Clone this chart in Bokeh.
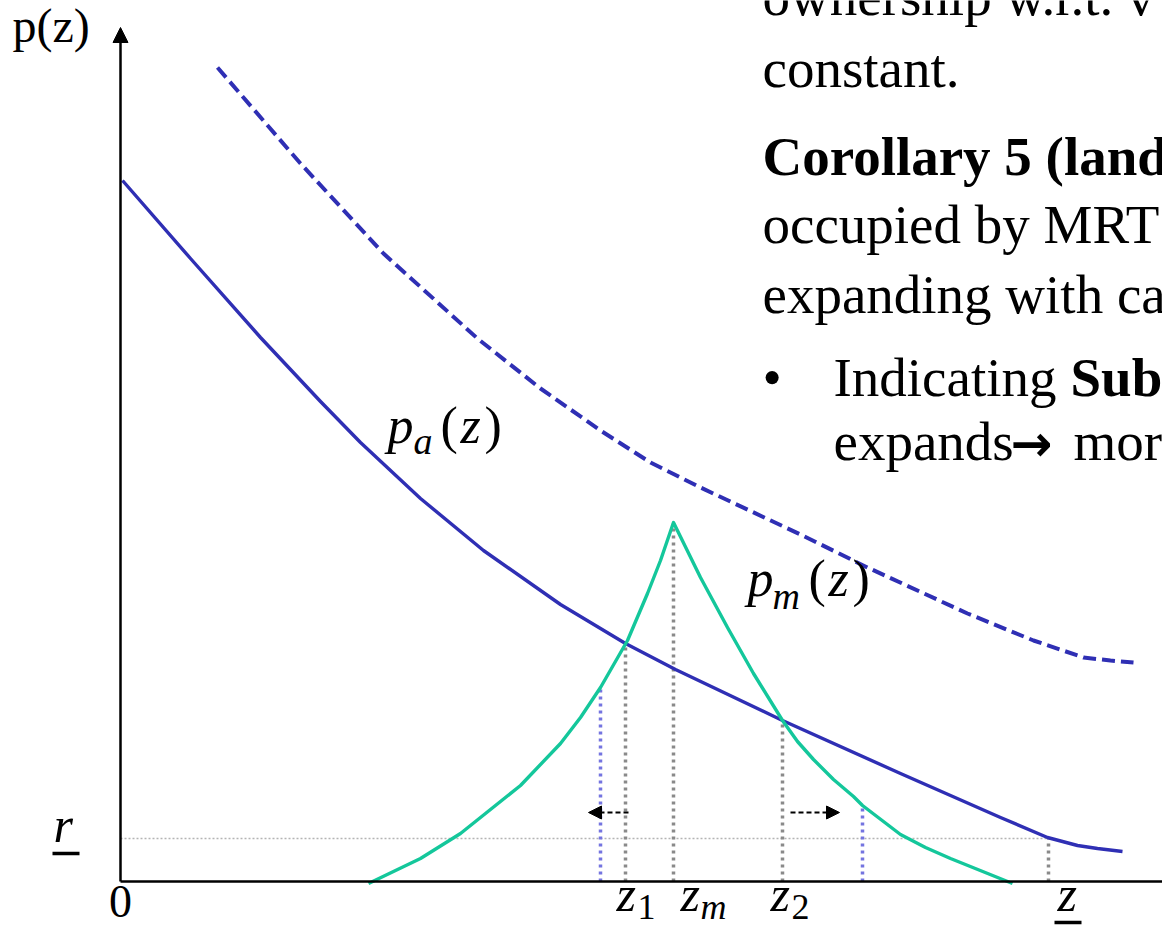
from bokeh.plotting import figure
from bokeh.models import Range1d, Arrow, NormalHead
from bokeh.embed import file_html
from bokeh.resources import INLINE
from bokeh.core.properties import value

# ---------------- data (chart units: z horizontal, p vertical) ----------------
pa_z = [0.02, 0.70, 1.40, 2.00, 2.40, 3.00, 3.63, 4.40, 5.05, 5.55, 6.62, 7.80, 8.30, 8.80, 9.27, 9.57, 9.77, 10.02]
pa_p = [7.01, 6.23, 5.44, 4.80, 4.39, 3.83, 3.31, 2.77, 2.38, 2.12, 1.61, 1.08, 0.86, 0.64, 0.44, 0.36, 0.33, 0.30]

pa2_z = [0.97, 1.80, 2.63, 3.57, 4.20, 4.80, 5.30, 5.80, 6.80, 7.47, 8.47, 9.13, 9.63, 9.90, 10.13]
pa2_p = [8.14, 7.18, 6.28, 5.43, 4.93, 4.51, 4.19, 3.94, 3.47, 3.14, 2.68, 2.41, 2.24, 2.21, 2.19]

pm_z = [2.48, 3.00, 3.40, 4.00, 4.40, 4.60, 4.80, 5.07, 5.27, 5.40, 5.53,
        5.80, 6.07, 6.33, 6.62, 6.77, 6.93, 7.13, 7.33, 7.42, 7.80, 8.05, 8.30, 8.92]
pm_p = [-0.02, 0.23, 0.48, 0.96, 1.38, 1.64, 1.94, 2.41, 2.88, 3.21, 3.59,
        3.04, 2.54, 2.08, 1.61, 1.40, 1.22, 1.02, 0.85, 0.76, 0.47, 0.34, 0.23, -0.02]

# vertical drop lines: z value and curve height
gray_drop_z = [5.05, 5.53, 6.62, 9.28]
gray_drop_p = [2.39, 3.58, 1.61, 0.43]
blue_drop_z = [4.80, 7.42]
blue_drop_p = [1.94, 0.76]

r_level = 0.43
z_bar = 9.28
y_axis_top = 8.54
x_axis_end = 10.60

# shift arrows (from, to) at height
shift_from = [5.08, 6.70]
shift_to = [4.68, 7.19]
shift_p = 0.69

# ---------------- figure ----------------
W, H = 1162, 930
X0, Y0, S = 120.0, 881.0, 100.0   # pixel position of the origin, pixels per unit
p = figure(width=W, height=H, output_backend="svg", toolbar_location=None,
           x_range=Range1d(-X0 / S, (W - X0) / S), y_range=Range1d((Y0 - H) / S, Y0 / S),
           x_axis_type=None, y_axis_type=None, min_border=0)
p.grid.visible = False
p.outline_line_color = None
p.background_fill_color = "white"
p.border_fill_color = "white"

BLUE = "#2F2FB4"
GREEN = "#14C79B"
GRAY = "#8A8A8A"
LBLUE = "#7474E0"

# r level dotted line
p.line([0, z_bar], [r_level, r_level], line_color="#B4B4B4", line_width=1.5, line_dash="2 2")

# drop lines
for zz, pp in zip(gray_drop_z, gray_drop_p):
    p.line([zz, zz], [0, pp], line_color=GRAY, line_width=3.5, line_dash="3 4")
for zz, pp in zip(blue_drop_z, blue_drop_p):
    p.line([zz, zz], [0, pp], line_color=LBLUE, line_width=3.5, line_dash="3 4")

# curves
p.line(pa2_z, pa2_p, line_color=BLUE, line_width=4, line_dash="13 6", line_join="round")
p.line(pa_z, pa_p, line_color=BLUE, line_width=3.4, line_join="round")
p.line(pm_z, pm_p, line_color=GREEN, line_width=3.4, line_join="round")

# axes with arrow heads
p.add_layout(Arrow(end=NormalHead(size=15, fill_color="black", line_color="black"),
                   x_start=0, y_start=0, x_end=0, y_end=y_axis_top,
                   line_color="black", line_width=2.5))
p.add_layout(Arrow(end=NormalHead(size=15, fill_color="black", line_color="black"),
                   x_start=0, y_start=0, x_end=x_axis_end, y_end=0,
                   line_color="black", line_width=2.5))

# shift arrows
for a, b in zip(shift_from, shift_to):
    p.add_layout(Arrow(end=NormalHead(size=13, fill_color="black", line_color="black", line_dash="solid"),
                       x_start=a, y_start=shift_p, x_end=b, y_end=shift_p,
                       line_color="black", line_width=2, line_dash="5 3"))

SERIF = "Liberation Serif"
MATH = "Liberation Serif"
BASE_K = 0.38  # baseline correction (em) for the svg text renderer


def txt(xpx, basepx, s, size, font=SERIF, style="normal", align="left", color="black"):
    x = (xpx - X0) / S
    y = (Y0 - basepx) / S + BASE_K * size / S
    p.text(x=[x], y=[y], text=[s], text_font=value(font), text_font_size=f"{size}px",
           text_font_style=style, text_align=align, text_baseline="alphabetic",
           text_color=color)


def uline(x1px, x2px, ypx):
    p.line([(x1px - X0) / S, (x2px - X0) / S], [(Y0 - ypx) / S] * 2, line_color="black", line_width=3.5)


# axis labels
txt(12, 43, "p(z)", 48)
txt(120, 918, "0", 46, align="center")

# r underlined
txt(53, 843, "r", 50, font=MATH, style="italic")
uline(52, 79, 853)

# z underlined
txt(1057, 912, "z", 50, font=MATH, style="italic")
uline(1054, 1081, 922)

# z1, zm, z2
MS, SS = 50, 36
BZ, BS = 912, 920
txt(616, BZ, "z", MS, font=MATH, style="italic")
txt(637, BS, "1", SS, font=MATH)
txt(680, BZ, "z", MS, font=MATH, style="italic")
txt(700, BS, "m", SS, font=MATH, style="italic")
txt(770, BZ, "z", MS, font=MATH, style="italic")
txt(791, BS, "2", SS, font=MATH)

# p_a(z)
LS, LSS = 52, 38
txt(387, 445, "p", LS, font=MATH, style="italic")
txt(413, 455, "a", LSS, font=MATH, style="italic")
txt(440, 445, "(", LS, font=MATH)
txt(460, 445, "z", LS, font=MATH, style="italic")
txt(484, 445, ")", LS, font=MATH)

# p_m(z)
txt(747, 598, "p", LS, font=MATH, style="italic")
txt(772, 610, "m", LSS, font=MATH, style="italic")
txt(808, 598, "(", LS, font=MATH)
txt(828, 598, "z", LS, font=MATH, style="italic")
txt(852, 598, ")", LS, font=MATH)

# slide text on the right
TS = 55
txt(762, 17, "ownership w.r.t. v", TS)
txt(762, 89, "constant.", TS)
txt(762, 177, "Corollary 5 (land", TS, style="bold")
txt(762, 245, "occupied by MRT", TS)
txt(762, 315, "expanding with ca", TS)
txt(762, 398, "\u2022", TS)
txt(833, 398, "Indicating", TS)
txt(1070, 398, "Subs", TS, style="bold")
txt(833, 462, "expands", TS)
txt(1010, 462, "\u2192", 50, font="DejaVu Sans", style="bold")
txt(1073, 462, "more", TS)

open("out.html", "w").write(file_html(p, INLINE))
